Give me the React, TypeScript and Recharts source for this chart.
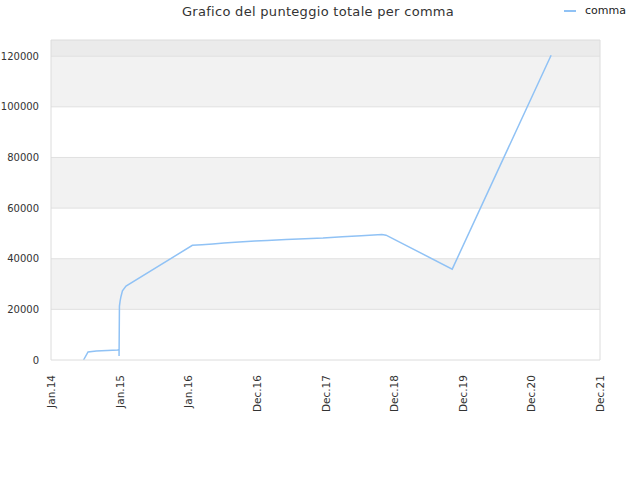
import React from 'react';
import {
  LineChart,
  Line,
  XAxis,
  YAxis,
  ReferenceArea,
  ReferenceLine
} from 'recharts';

// days counted from 1 Jan 2014
const days = [173, 197, 241, 356, 362, 362, 364, 368, 372, 380, 399, 752, 803, 860, 920, 1000, 1085, 1150, 1250, 1350, 1447, 1550, 1650, 1760, 1782, 2134, 2660];
const comma = [0, 3160, 3550, 3950, 4200, 1580, 21300, 23500, 25000, 27300, 29200, 45300, 45500, 45800, 46200, 46600, 47000, 47200, 47600, 47900, 48150, 48700, 49100, 49600, 49300, 35900, 120400];

const xTicks = [0, 365, 730, 1095, 1460, 1825, 2190, 2555, 2920];
const xLabels = ['Jan.14', 'Jan.15', 'Jan.16', 'Dec.16', 'Dec.17', 'Dec.18', 'Dec.19', 'Dec.20', 'Dec.21'];
const yTicks = [0, 20000, 40000, 60000, 80000, 100000, 120000];
const yMax = 126400;

const data = days.map((d, i) => ({ day: d, comma: comma[i] }));

const bandFills = ['#ffffff', '#f2f2f2', '#ffffff', '#f2f2f2', '#ffffff', '#f2f2f2', '#ebebeb'];
const bands = yTicks.map((t, i) => ({
  y1: t,
  y2: i + 1 < yTicks.length ? yTicks[i + 1] : yMax,
  fill: bandFills[i]
}));

const FONT = '"DejaVu Sans", sans-serif';

const XTick = (props: any) => {
  const { x, y, payload } = props;
  const idx = xTicks.indexOf(payload.value);
  return (
    <text
      x={x}
      y={y}
      transform={`rotate(-90, ${x}, ${y})`}
      textAnchor="end"
      dy={4}
      dx={-13}
      fontSize={10.5}
      fill="#333"
      fontFamily={FONT}
    >
      {xLabels[idx]}
    </text>
  );
};

const App: React.FC = () => {
  return (
    <div style={{ position: 'absolute', left: 0, top: 0, width: 640, height: 480, background: '#fff' }}>
      <div
        style={{
          position: 'absolute',
          top: 4,
          left: 0,
          width: 636,
          textAlign: 'center',
          fontFamily: FONT,
          fontSize: 13,
          color: '#333',
          letterSpacing: 0.3
        }}
      >
        Grafico del punteggio totale per comma
      </div>
      <div
        style={{
          position: 'absolute',
          top: 4,
          left: 564,
          display: 'flex',
          alignItems: 'center',
          fontFamily: FONT,
          fontSize: 11,
          color: '#222'
        }}
      >
        <span style={{ display: 'inline-block', width: 12, height: 2, background: '#90c2f5', marginRight: 9 }} />
        comma
      </div>
      <LineChart
        width={640}
        height={480}
        data={data}
        margin={{ top: 40, right: 40, left: 0, bottom: 0 }}
      >
        {bands.map((b, i) => (
          <ReferenceArea key={i} y1={b.y1} y2={b.y2} fill={b.fill} fillOpacity={1} stroke="none" ifOverflow="hidden" />
        ))}
        {yTicks.slice(1).map((t) => (
          <ReferenceLine key={t} y={t} stroke="#e0e0e0" strokeWidth={1} />
        ))}
        <ReferenceLine y={yMax} stroke="#dcdcdc" strokeWidth={1} />
        <ReferenceLine x={2920} stroke="#dcdcdc" strokeWidth={1} />
        <XAxis
          dataKey="day"
          type="number"
          domain={[0, 2920]}
          ticks={xTicks}
          interval={0}
          tick={<XTick />}
          tickLine={false}
          tickSize={0}
          axisLine={{ stroke: '#dcdcdc' }}
          height={120}
          allowDataOverflow
        />
        <YAxis
          type="number"
          domain={[0, yMax]}
          ticks={yTicks}
          interval={0}
          width={51}
          tickLine={false}
          tickSize={0}
          axisLine={{ stroke: '#dcdcdc' }}
          tickMargin={12}
          tick={{ fontSize: 10, fill: '#333', fontFamily: FONT }}
          allowDataOverflow
        />
        <Line
          type="linear"
          dataKey="comma"
          stroke="#90c2f5"
          strokeWidth={1.5}
          dot={false}
          activeDot={false}
          isAnimationActive={false}
        />
      </LineChart>
    </div>
  );
};

export default App;
